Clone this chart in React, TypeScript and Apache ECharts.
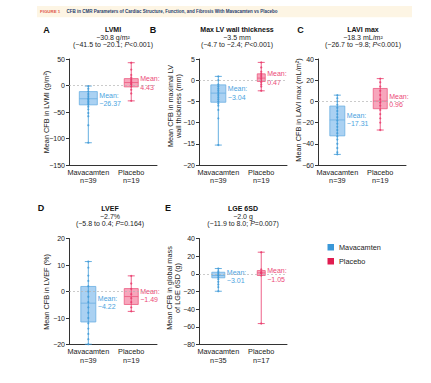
import React, { useEffect, useRef } from 'react';
import * as echarts from 'echarts';

const FONT = 'Liberation Sans, Arial, Helvetica, sans-serif';

// ---------- text ----------
const headerLabel = 'FIGURE 1';
const headerTitle =
  'CFB in CMR Parameters of Cardiac Structure, Function, and Fibrosis With Mavacamten vs Placebo';

const groups = ['Mavacamten', 'Placebo'];
const panelLetters = ['A', 'B', 'C', 'D', 'E'];
const panelTitles = ['LVMI', 'Max LV wall thickness', 'LAVI max', 'LVEF', 'LGE 6SD'];
const panelDiffs = ['−30.8 g/m²', '−3.5 mm', '−18.3 mL/m²', '−2.7%', '−2.0 g'];
const panelCIs = ['−41.5 to −20.1', '−4.7 to −2.4', '−26.7 to −9.8', '−5.8 to 0.4', '−11.9 to 8.0'];
const panelPValues = ['<0.001', '<0.001', '<0.001', '=0.164', '=0.007'];
const yAxisNames = [
  ['Mean CFB in LVMI (g/m²)'],
  ['Mean CFB in maximal LV', 'wall thickness (mm)'],
  ['Mean CFB in LAVI max (mL/m²)'],
  ['Mean CFB in LVEF (%)'],
  ['Mean CFB in global mass', 'of LGE 6SD (g)'],
];
const groupN = [
  [39, 19],
  [39, 19],
  [39, 19],
  [39, 19],
  [35, 17],
];

// ---------- axis ranges ----------
const yMins = [-150, -20, -60, -20, -80];
const yMaxs = [50, 5, 40, 20, 40];
const yIntervals = [50, 5, 20, 10, 20];

// ---------- box statistics: [min, q1, median, q3, max] ----------
const mavStats = [
  [-108, -36.5, -25, -11.5, -1],
  [-15.3, -5.2, -3.05, -1.1, 0.9],
  [-50, -32.5, -17.5, -4.4, 5.9],
  [-19.9, -11.5, -4.4, 1.9, 11.3],
  [-19.7, -4.5, -1.9, 1.8, 6],
];
const plaStats = [
  [-29, -2.6, 5.6, 13, 43],
  [-2.5, -0.3, 0.5, 1.5, 4.2],
  [-27, -6.9, 0.3, 12.2, 21.5],
  [-7.5, -4.9, -1.9, 1.1, 5.9],
  [-56.3, -1.9, 1.1, 3.7, 24.5],
];
const mavMeans = [-26.37, -3.04, -17.31, -4.22, -3.01];
const plaMeans = [4.43, 0.47, 0.96, -1.49, -1.05];

// ---------- individual patient points ----------
const mavPoints = [
  [-1, -6, -11, -16, -20, -24, -27, -30, -33, -36, -40, -45, -52, -58, -75, -108],
  [0.9, 0, -1, -1.5, -2, -2.5, -3, -3.5, -4, -4.5, -5, -5.5, -6, -7, -9, -15.3],
  [5.9, 3, 0, -3, -6, -9, -12, -15, -18, -21, -24, -27, -30, -33, -36, -40, -44, -48, -50],
  [11.3, 9, 6, 4, 2, 0, -2, -4, -6, -8, -10, -12, -14, -16, -18, -19.9],
  [6, 3, 1, -1, -2, -4, -6, -9, -12, -15, -19.7],
];
const plaPoints = [
  [43, 30, 20, 15, 11, 8, 5, 3, 1, -2, -8, -15, -29],
  [4.2, 3, 2, 1.5, 1, 0.5, 0, -0.5, -1, -1.5, -2.5],
  [21.5, 18, 14, 10, 6, 2, -1, -4, -8, -12, -16, -20, -27],
  [5.9, 3, 1, -1, -2.5, -4, -6, -7.5],
  [24.5, 5, 2, 1, 0, -2, -56.3],
];

// ---------- layout / style (not data) ----------
const gridBoxes = [
  { left: 69, top: 59, width: 88, height: 106 },
  { left: 199, top: 59, width: 88, height: 106 },
  { left: 318, top: 59, width: 88, height: 106 },
  { left: 69, top: 238.5, width: 88, height: 106 },
  { left: 199, top: 238.5, width: 88, height: 106 },
];
const titleCenters = [113, 237, 363, 110, 243];
const titleTopY = [29.5, 29.5, 29.5, 208.5, 208.5];
const letterPos = [
  [46.5, 30],
  [153, 30],
  [300.5, 30],
  [41, 207.5],
  [168, 207.5],
];
const yNamePos = [
  [46.5, 112],
  [174.5, 106],
  [298, 110],
  [46.5, 292],
  [173.5, 288],
];
const boxWidths = [
  [18, 14],
  [15, 8],
  [15, 14],
  [15, 14],
  [13, 8],
];
const CAP = 7;
const palette = [
  { fill: 'rgba(125,185,235,0.65)', border: '#6aaee2', line: '#3f9ad8', text: '#4aa3e0', legend: '#3a98d8' },
  { fill: 'rgba(244,128,160,0.7)', border: '#ec5a80', line: '#e8386a', text: '#ec4a78', legend: '#e01c50' },
];
const AXIS_COLOR = '#333';

const minus = (s: string) => s.replace(/-/g, '−');

function makeRender(p: number, g: number) {
  const c = palette[g];
  return (params: any, api: any) => {
    const x = api.value(0);
    const vMin = api.value(1);
    const q1 = api.value(2);
    const med = api.value(3);
    const q3 = api.value(4);
    const vMax = api.value(5);
    const mean = api.value(6);
    const pMin = api.coord([x, vMin]);
    const cx = pMin[0];
    const yMinP = pMin[1];
    const yQ1 = api.coord([x, q1])[1];
    const yMed = api.coord([x, med])[1];
    const yQ3 = api.coord([x, q3])[1];
    const yMaxP = api.coord([x, vMax])[1];
    const yMean = api.coord([x, mean])[1];
    const bw = boxWidths[p][g];
    return {
      type: 'group',
      children: [
        {
          type: 'rect',
          shape: { x: cx - bw / 2, y: yQ3, width: bw, height: yQ1 - yQ3 },
          style: { fill: c.fill, stroke: c.border, lineWidth: 0.8 },
        },
        {
          type: 'line',
          shape: { x1: cx, y1: yMinP, x2: cx, y2: yMaxP },
          style: { stroke: c.line, lineWidth: 0.8 },
        },
        {
          type: 'line',
          shape: { x1: cx - CAP / 2, y1: yMinP, x2: cx + CAP / 2, y2: yMinP },
          style: { stroke: c.line, lineWidth: 0.8 },
        },
        {
          type: 'line',
          shape: { x1: cx - CAP / 2, y1: yMaxP, x2: cx + CAP / 2, y2: yMaxP },
          style: { stroke: c.line, lineWidth: 0.8 },
        },
        {
          type: 'line',
          shape: { x1: cx - bw / 2, y1: yMed, x2: cx + bw / 2, y2: yMed },
          style: { stroke: c.border, lineWidth: 0.8 },
        },
        {
          type: 'text',
          x: cx + bw / 2 + 2,
          y: yMean,
          style: {
            text: 'Mean:\n' + minus(mean.toFixed(2)),
            fill: c.text,
            fontSize: 7,
            lineHeight: 8.5,
            fontFamily: FONT,
            align: 'left',
            verticalAlign: 'middle',
          },
        },
      ],
    };
  };
}

function buildOption() {
  const grid: any[] = [];
  const xAxis: any[] = [];
  const yAxis: any[] = [];
  const series: any[] = [];
  const graphic: any[] = [];

  // header band
  graphic.push({
    type: 'rect',
    shape: { x: 37, y: 6, width: 375, height: 11.3 },
    style: { fill: '#fdf5e4' },
    silent: true,
  });
  graphic.push({
    type: 'text',
    x: 40,
    y: 11.8,
    style: {
      text: headerLabel,
      fill: '#e0584c',
      fontSize: 4.4,
      fontWeight: 'bold',
      fontFamily: FONT,
      verticalAlign: 'middle',
    },
  });
  graphic.push({
    type: 'text',
    x: 66.5,
    y: 11.8,
    style: {
      text: headerTitle,
      fill: '#1f3d6d',
      fontSize: 4.5,
      fontWeight: 'bold',
      fontFamily: FONT,
      verticalAlign: 'middle',
    },
  });

  for (let p = 0; p < 5; p++) {
    grid.push({ ...gridBoxes[p], containLabel: false });
    xAxis.push({
      type: 'value',
      gridIndex: p,
      min: -0.45,
      max: 1.6,
      axisLine: { show: true, onZero: false, lineStyle: { color: AXIS_COLOR, width: 1 } },
      axisTick: { show: false },
      splitLine: { show: false },
      axisLabel: {
        customValues: [0, 1],
        margin: 3,
        fontSize: 7.3,
        lineHeight: 8.5,
        color: '#222',
        fontFamily: FONT,
        formatter: (v: number) => {
          const i = Math.round(v);
          return groups[i] + '\n' + 'n=' + groupN[p][i];
        },
      },
    });
    yAxis.push({
      type: 'value',
      gridIndex: p,
      min: yMins[p],
      max: yMaxs[p],
      interval: yIntervals[p],
      axisLine: { show: true, onZero: false, lineStyle: { color: AXIS_COLOR, width: 1 } },
      axisTick: { show: true, length: 3, lineStyle: { color: AXIS_COLOR } },
      splitLine: { show: false },
      axisLabel: {
        margin: 4,
        fontSize: 7,
        color: '#222',
        fontFamily: FONT,
        formatter: (v: number) => minus(String(v)),
      },
    });

    // zero reference
    series.push({
      type: 'line',
      xAxisIndex: p,
      yAxisIndex: p,
      data: [],
      silent: true,
      z: 1,
      markLine: {
        silent: true,
        symbol: ['none', 'none'],
        label: { show: false },
        lineStyle: { type: [2, 2], color: '#b5b5b5', width: 0.7 },
        data: [{ yAxis: 0 }],
      },
    });

    const stats = [mavStats[p], plaStats[p]];
    const means = [mavMeans[p], plaMeans[p]];
    const pts = [mavPoints[p], plaPoints[p]];
    for (let g = 0; g < 2; g++) {
      series.push({
        type: 'custom',
        name: groups[g],
        xAxisIndex: p,
        yAxisIndex: p,
        clip: false,
        z: 2,
        itemStyle: { color: palette[g].legend },
        renderItem: makeRender(p, g),
        data: [[g, ...stats[g], means[g]]],
      });
    }
    for (let g = 0; g < 2; g++) {
      series.push({
        type: 'scatter',
        name: groups[g],
        xAxisIndex: p,
        yAxisIndex: p,
        z: 3,
        symbolSize: 2.2,
        silent: true,
        itemStyle: { color: palette[g].line },
        data: pts[g].map((v) => [g, v]),
      });
    }

    // panel letter
    graphic.push({
      type: 'text',
      x: letterPos[p][0],
      y: letterPos[p][1],
      style: {
        text: panelLetters[p],
        fill: '#111',
        fontSize: 9,
        fontWeight: 'bold',
        fontFamily: FONT,
        align: 'center',
        verticalAlign: 'middle',
      },
    });
    // titles
    const tx = titleCenters[p];
    const ty = titleTopY[p];
    graphic.push({
      type: 'text',
      x: tx,
      y: ty,
      style: {
        text: panelTitles[p],
        fill: '#111',
        fontSize: 7,
        fontWeight: 'bold',
        fontFamily: FONT,
        align: 'center',
        verticalAlign: 'middle',
      },
    });
    graphic.push({
      type: 'text',
      x: tx,
      y: ty + 7.5,
      style: {
        text: panelDiffs[p],
        fill: '#222',
        fontSize: 7,
        fontFamily: FONT,
        align: 'center',
        verticalAlign: 'middle',
      },
    });
    graphic.push({
      type: 'text',
      x: tx,
      y: ty + 15,
      style: {
        text: '(' + panelCIs[p] + '; {i|P}' + panelPValues[p] + ')',
        fill: '#222',
        fontSize: 7,
        fontFamily: FONT,
        align: 'center',
        verticalAlign: 'middle',
        rich: {
          i: { fontStyle: 'italic', fontSize: 7, fill: '#222', fontFamily: FONT },
        },
      },
    });
    // y axis name
    graphic.push({
      type: 'text',
      x: yNamePos[p][0],
      y: yNamePos[p][1],
      rotation: Math.PI / 2,
      style: {
        text: yAxisNames[p].join('\n'),
        fill: '#222',
        fontSize: 7.3,
        lineHeight: 7.6,
        fontFamily: FONT,
        align: 'center',
        verticalAlign: 'middle',
      },
    });
  }

  return {
    animation: false,
    backgroundColor: '#ffffff',
    textStyle: { fontFamily: FONT },
    grid,
    xAxis,
    yAxis,
    series,
    graphic,
    legend: {
      data: [
        { name: groups[0], itemStyle: { color: palette[0].legend } },
        { name: groups[1], itemStyle: { color: palette[1].legend } },
      ],
      orient: 'vertical',
      left: 327.5,
      top: 243.5,
      padding: 0,
      icon: 'rect',
      itemWidth: 6.5,
      itemHeight: 6.5,
      itemGap: 6.5,
      selectedMode: false,
      textStyle: { fontSize: 7.3, color: '#222', fontFamily: FONT, lineHeight: 7.5 },
    },
  };
}

export default function App() {
  const ref = useRef<HTMLDivElement>(null);
  useEffect(() => {
    if (!ref.current) return;
    const chart = echarts.init(ref.current, undefined, { renderer: 'svg' });
    chart.setOption(buildOption() as any);
    return () => chart.dispose();
  }, []);
  return (
    <div
      ref={ref}
      style={{ position: 'absolute', left: 0, top: 0, width: 431, height: 383, background: '#fff' }}
    />
  );
}
